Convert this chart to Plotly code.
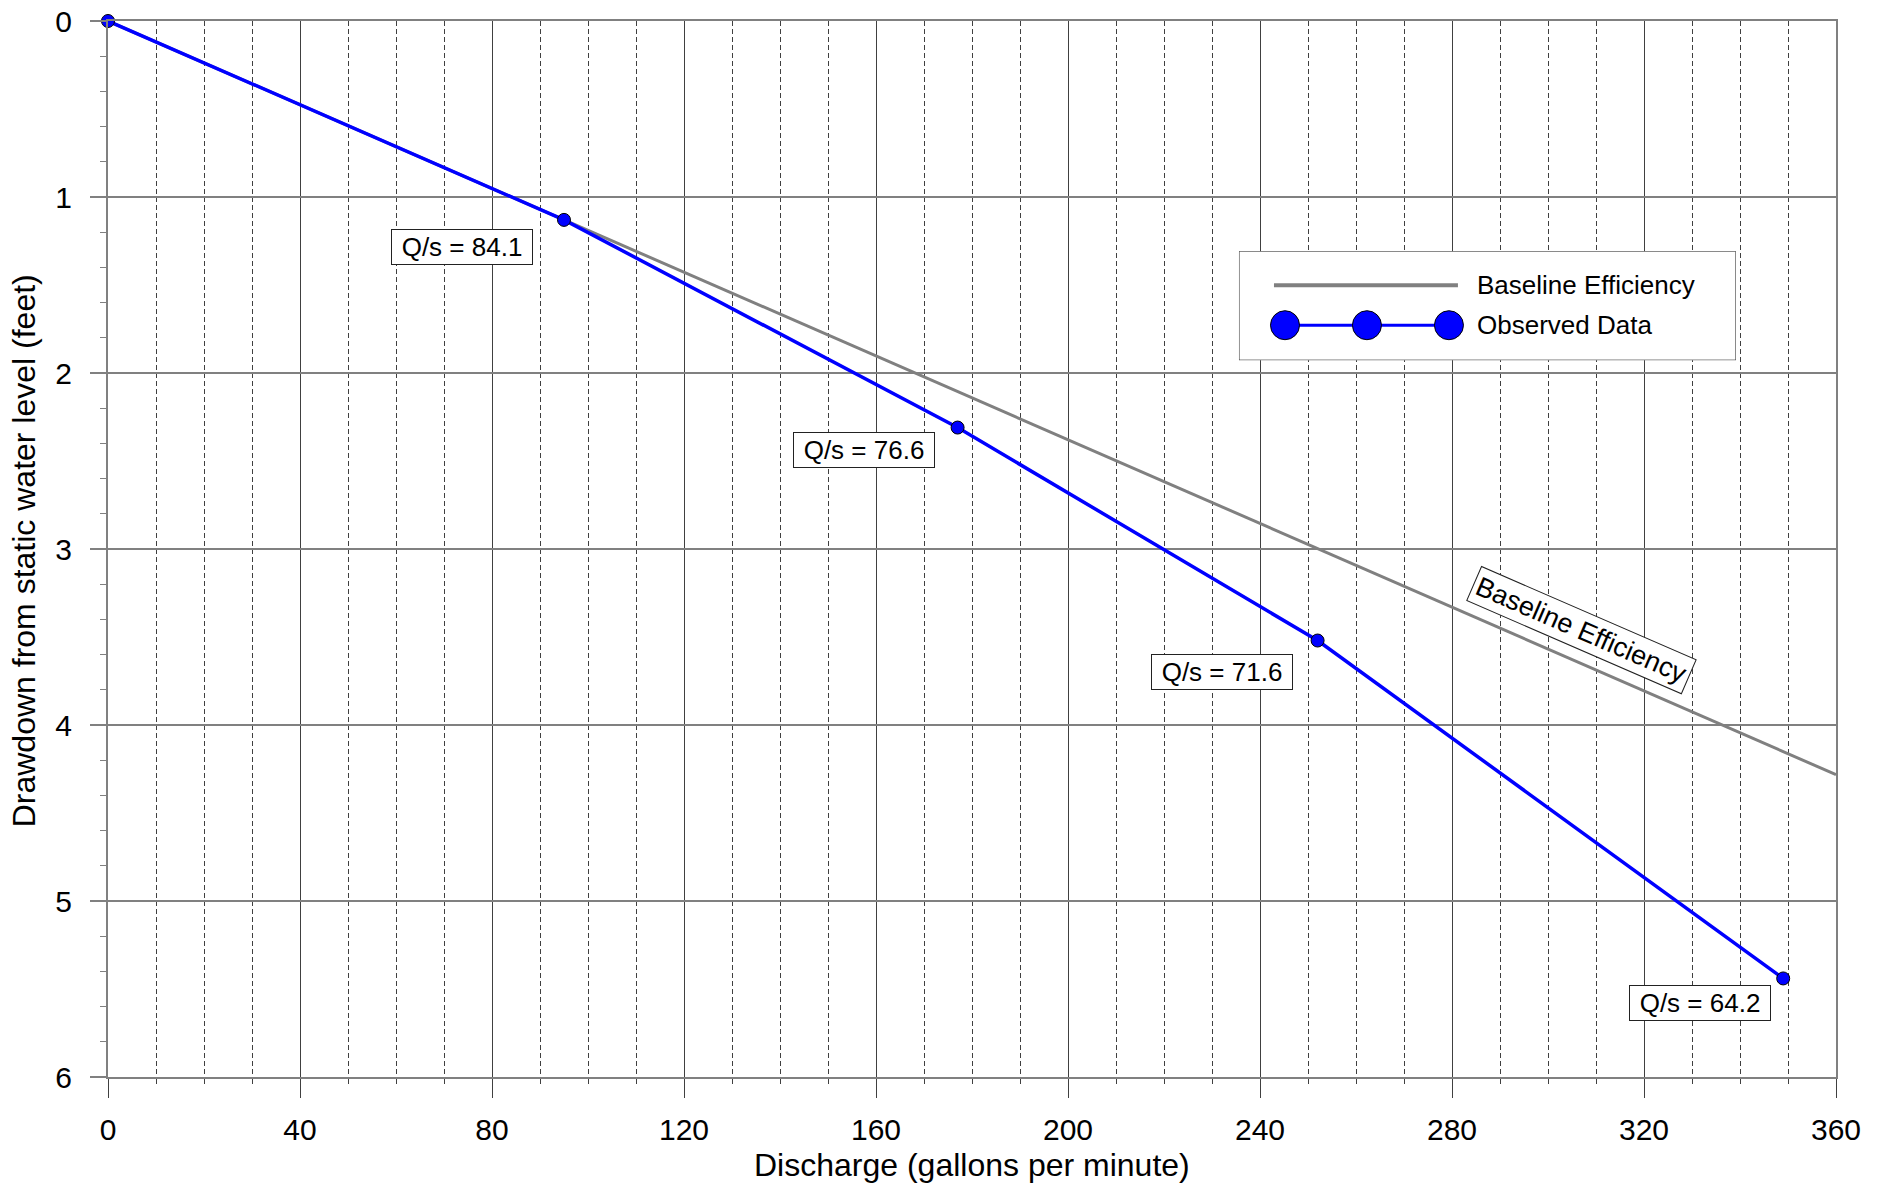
import plotly.graph_objects as go

# Step-drawdown test: discharge rate vs. drawdown below static water level
discharge_gpm = [0, 95, 177, 252, 349]
drawdown_ft = [0, 1.13, 2.31, 3.52, 5.44]

x_tick_vals = [0, 40, 80, 120, 160, 200, 240, 280, 320, 360]
y_tick_vals = [0, 1, 2, 3, 4, 5, 6]

# Extent of the baseline-efficiency line (gpm)
baseline_q = [0, 360]

# Pixel offsets of the Q/s boxes from their points (right edge, top edge)
label_dx = [-31, -23, -25, -12]
label_dy = [-9, -4, -13, -7]

W, H = 1883, 1186
M_L, M_R, M_T, M_B = 108, 47, 21, 109
FONT = "Liberation Sans, Arial, Helvetica, sans-serif"
BLUE = "#0000ff"
GRAY = "#808080"
DARK = "#404040"

# Specific capacity of the first step sets the baseline
spec_cap = discharge_gpm[1] / drawdown_ft[1]
baseline_s = [q / spec_cap for q in baseline_q]

fig = go.Figure()

fig.add_trace(go.Scatter(
    x=baseline_q, y=baseline_s, mode="lines",
    line=dict(color=GRAY, width=3), showlegend=False, hoverinfo="skip",
))
fig.add_trace(go.Scatter(
    x=discharge_gpm, y=drawdown_ft, mode="lines+markers",
    line=dict(color=BLUE, width=3.5),
    marker=dict(size=13, color=BLUE, line=dict(color="black", width=1)),
    cliponaxis=False, showlegend=False,
))

annotations = []
for i in range(1, len(discharge_gpm)):
    q, s = discharge_gpm[i], drawdown_ft[i]
    annotations.append(dict(
        x=q, y=s, xref="x", yref="y", showarrow=False,
        text=f"Q/s = {q / s:.1f}",
        xanchor="right", yanchor="top",
        xshift=label_dx[i - 1], yshift=label_dy[i - 1],
        font=dict(family=FONT, size=26, color="black"),
        bgcolor="white", bordercolor="#222222", borderwidth=1, borderpad=3,
        width=134, height=28,
    ))

# Rotated label along the baseline line
annotations.append(dict(
    x=306.9, y=3.46, xref="x", yref="y", showarrow=False,
    text="Baseline Efficiency", textangle=23.5,
    font=dict(family=FONT, size=27, color="black"),
    bgcolor="white", bordercolor="#222222", borderwidth=1, borderpad=3,
))

# Axis titles
annotations.append(dict(
    x=0.5, y=-0.0833, xref="paper", yref="paper", showarrow=False,
    text="Discharge (gallons per minute)", xanchor="center", yanchor="middle",
    font=dict(family=FONT, size=32, color="black"),
))
annotations.append(dict(
    x=-0.0485, y=0.498, xref="paper", yref="paper", showarrow=False,
    text="Drawdown from static water level (feet)", textangle=-90,
    xanchor="center", yanchor="middle",
    font=dict(family=FONT, size=32, color="black"),
))

# Legend drawn in a small overlay subplot
fig.add_trace(go.Scatter(
    x=[0.0704, 0.4406], y=[0.688, 0.688], mode="lines",
    line=dict(color=GRAY, width=4), xaxis="x2", yaxis="y2",
    showlegend=False, hoverinfo="skip",
))
fig.add_trace(go.Scatter(
    x=[0.0926, 0.2575, 0.4225], y=[0.321, 0.321, 0.321], mode="lines+markers",
    line=dict(color=BLUE, width=3),
    marker=dict(size=29, color=BLUE, line=dict(color="black", width=1)),
    xaxis="x2", yaxis="y2", showlegend=False, hoverinfo="skip",
))
for txt, ly in [("Baseline Efficiency", 0.688), ("Observed Data", 0.321)]:
    annotations.append(dict(
        x=0.475, y=ly, xref="x2", yref="y2", showarrow=False, text=txt,
        xanchor="left", yanchor="middle",
        font=dict(family=FONT, size=26, color="black"),
    ))

shapes = [dict(
    type="rect", xref="x2", yref="y2", x0=0, x1=1, y0=0, y1=1,
    layer="below", fillcolor="white", line=dict(color="#222222", width=1),
)]

fig.update_layout(
    width=W, height=H,
    margin=dict(l=M_L, r=M_R, t=M_T, b=M_B, autoexpand=False),
    paper_bgcolor="white", plot_bgcolor="white",
    font=dict(family=FONT, size=30, color="black"),
    showlegend=False,
    annotations=annotations,
    shapes=shapes,
    xaxis=dict(
        range=[0, 360], tickvals=x_tick_vals, showgrid=True,
        gridcolor=DARK, gridwidth=1, zeroline=False,
        ticks="outside", ticklen=19, tickwidth=1, tickcolor=DARK,
        showline=True, linecolor=GRAY, linewidth=2, mirror=True,
        tickfont=dict(size=30), ticklabelstandoff=6,
        minor=dict(dtick=10, tick0=0, showgrid=True, gridcolor=DARK,
                   gridwidth=1, griddash="5px,3px", ticks="outside",
                   ticklen=5, tickwidth=1, tickcolor=DARK),
    ),
    yaxis=dict(
        range=[6, 0], tickvals=y_tick_vals, showgrid=True,
        gridcolor=GRAY, gridwidth=2, zeroline=False,
        ticks="outside", ticklen=16, tickwidth=2, tickcolor=GRAY,
        showline=True, linecolor=GRAY, linewidth=2, mirror=True,
        tickfont=dict(size=30), ticklabelstandoff=12,
        minor=dict(dtick=0.2, tick0=0, showgrid=False, ticks="outside",
                   ticklen=6, tickwidth=1, tickcolor=GRAY),
    ),
    xaxis2=dict(domain=[0.6545, 0.9421], range=[0, 1], anchor="y2",
                visible=False, fixedrange=True),
    yaxis2=dict(domain=[0.6788, 0.782], range=[0, 1], anchor="x2",
                visible=False, fixedrange=True),
)

fig.write_html("out.html")
